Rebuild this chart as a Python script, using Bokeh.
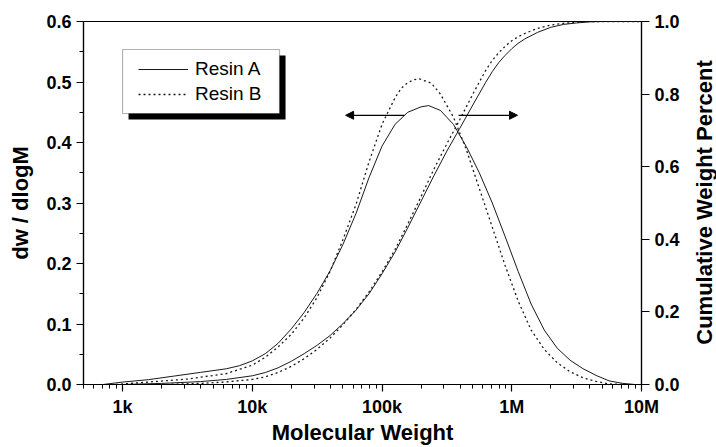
from math import pi

from bokeh.embed import file_html
from bokeh.layouts import row
from bokeh.models import (Arrow, BoxAnnotation, CustomJSTickFormatter, FixedTicker,
                          Label, Legend, LegendItem, LinearAxis, NormalHead,
                          PrintfTickFormatter, Range1d)
from bokeh.plotting import figure
from bokeh.resources import INLINE

# ---- molecular weight distributions (dw/dlogM, left axis) ----
mw_dist_a = [708, 1000, 1580, 2510, 3980, 6310, 7940, 10000, 12600, 15800, 20000,
             25100, 31600, 39800, 50100, 63100, 79400, 100000, 126000, 158000,
             200000, 229000, 282000, 355000, 447000, 562000, 708000, 891000,
             1120000, 1410000, 1780000, 2240000, 2820000, 3550000, 4470000,
             5620000, 7080000, 8910000]
dist_a = [0.000, 0.004, 0.008, 0.014, 0.020, 0.026, 0.031, 0.039, 0.051, 0.068, 0.092,
          0.119, 0.151, 0.188, 0.232, 0.283, 0.342, 0.394, 0.430, 0.450,
          0.459, 0.461, 0.453, 0.430, 0.393, 0.350, 0.300, 0.244,
          0.187, 0.133, 0.090, 0.060, 0.040, 0.026, 0.015,
          0.006, 0.002, 0.000]

mw_dist_b = [891, 1580, 3160, 6310, 10000, 12600, 15800, 20000, 25100, 31600, 39800,
             50100, 63100, 79400, 100000, 126000, 141000, 158000, 178000, 195000,
             240000, 282000, 355000, 447000, 562000, 708000, 891000, 1120000,
             1410000, 1780000, 2240000, 2820000, 3550000, 4470000, 5620000, 7080000]
dist_b = [0.000, 0.004, 0.009, 0.018, 0.032, 0.045, 0.062, 0.083, 0.110, 0.144, 0.187,
          0.240, 0.298, 0.368, 0.430, 0.474, 0.490, 0.499, 0.504, 0.505,
          0.498, 0.480, 0.442, 0.388, 0.324, 0.260, 0.196, 0.138,
          0.090, 0.058, 0.036, 0.021, 0.011, 0.005, 0.001, 0.000]

# ---- cumulative weight fraction (right axis) ----
mw_cum_a = [1000, 2000, 3980, 6310, 10000, 12600, 15800, 20000, 25100, 31600, 39800,
            50100, 63100, 79400, 100000, 126000, 158000, 200000, 251000, 316000,
            398000, 501000, 631000, 708000, 794000, 891000, 1000000, 1120000,
            1260000, 1580000, 2000000, 2510000, 3160000, 3980000, 5010000, 10000000]
cum_a = [0.000, 0.003, 0.008, 0.014, 0.024, 0.033, 0.046, 0.064, 0.085, 0.108, 0.135,
         0.168, 0.205, 0.250, 0.305, 0.365, 0.432, 0.505, 0.575, 0.643,
         0.706, 0.770, 0.833, 0.862, 0.887, 0.907, 0.925, 0.940,
         0.952, 0.970, 0.984, 0.992, 0.996, 0.999, 1.000, 1.000]

mw_cum_b = [2000, 3980, 6310, 10000, 12600, 15800, 20000, 25100, 31600, 39800, 50100,
            63100, 79400, 100000, 126000, 158000, 200000, 251000, 316000, 398000,
            501000, 631000, 708000, 794000, 891000, 1000000, 1120000, 1260000,
            1580000, 2000000, 2510000, 3160000, 3980000, 10000000]
cum_b = [0.000, 0.003, 0.007, 0.014, 0.021, 0.033, 0.050, 0.071, 0.097, 0.128, 0.165,
         0.207, 0.255, 0.310, 0.372, 0.442, 0.518, 0.593, 0.663, 0.730,
         0.800, 0.866, 0.893, 0.914, 0.932, 0.947, 0.958, 0.967,
         0.981, 0.990, 0.995, 0.998, 1.000, 1.000]

# ---- axis ticks ----
x_tick_values = [1e3, 1e4, 1e5, 1e6, 1e7]
x_tick_labels = ["1k", "10k", "100k", "1M", "10M"]
left_ticks = [0.0, 0.1, 0.2, 0.3, 0.4, 0.5, 0.6]
right_ticks = [0.0, 0.2, 0.4, 0.6, 0.8, 1.0]

FONT = "Liberation Sans"
INK = "#1a1a1a"

p = figure(width=686, height=447, x_axis_type="log",
           x_range=Range1d(500, 1e7), y_range=Range1d(0, 0.6),
           output_backend="svg", toolbar_location=None,
           min_border_left=83, min_border_right=45,
           min_border_top=21, min_border_bottom=63)
p.extra_y_ranges = {"cum": Range1d(0, 1.0)}
p.xgrid.visible = False
p.ygrid.visible = False
p.outline_line_color = "black"
p.outline_line_width = 1.2
p.background_fill_color = "white"
p.border_fill_color = "white"

# legend frame with drop shadow
shadow = BoxAnnotation(left=1112, right=18044, top=0.5438, bottom=0.438,
                       fill_color="black", fill_alpha=1.0, line_color=None)
frame = BoxAnnotation(left=1000, right=16218, top=0.5537, bottom=0.4479,
                      fill_color="white", fill_alpha=1.0,
                      line_color="black", line_width=1.2)
p.add_layout(shadow)
p.add_layout(frame)

ra = p.line(mw_dist_a, dist_a, line_color=INK, line_width=1.0)
rb = p.line(mw_dist_b, dist_b, line_color=INK, line_width=1.3, line_dash="2 3")
p.line(mw_cum_a, cum_a, line_color=INK, line_width=1.0, y_range_name="cum")
p.line(mw_cum_b, cum_b, line_color=INK, line_width=1.3, line_dash="2 3",
       y_range_name="cum")

# arrows pointing to the axis each curve pair belongs to
p.add_layout(Arrow(end=NormalHead(size=8, fill_color="black", line_color="black"),
                   x_start=149000, y_start=0.445, x_end=52400, y_end=0.445,
                   line_color="black", line_width=1.2))
p.add_layout(Arrow(end=NormalHead(size=8, fill_color="black", line_color="black"),
                   x_start=389000, y_start=0.445, x_end=1107000, y_end=0.445,
                   line_color="black", line_width=1.2))

legend = Legend(items=[LegendItem(label="Resin A", renderers=[ra]),
                       LegendItem(label="Resin B", renderers=[rb])],
                location=(55, 279), padding=0, margin=0,
                border_line_color=None, background_fill_alpha=0.0,
                glyph_width=50, glyph_height=20, label_height=20,
                spacing=3, label_standoff=7,
                label_text_font=FONT, label_text_font_size="19px",
                label_text_color="black")
p.add_layout(legend)

# bottom axis
xa = p.xaxis[0]
minor_x = [m * 10 ** e for e in range(2, 7) for m in range(2, 10) if 500 <= m * 10 ** e <= 1e7]
xa.ticker = FixedTicker(ticks=x_tick_values, minor_ticks=minor_x)
xa.formatter = CustomJSTickFormatter(
    args=dict(tick_values=x_tick_values, tick_labels=x_tick_labels),
    code="const i = tick_values.indexOf(tick); return i >= 0 ? tick_labels[i] : '';")
xa.axis_label = "Molecular Weight"

# left axis
ya = p.yaxis[0]
ya.ticker = FixedTicker(ticks=left_ticks,
                        minor_ticks=[0.05, 0.15, 0.25, 0.35, 0.45, 0.55])
ya.formatter = PrintfTickFormatter(format="%.1f")
ya.axis_label = "dw / dlogM"

# right axis
yr = LinearAxis(y_range_name="cum", ticker=FixedTicker(ticks=right_ticks),
                formatter=PrintfTickFormatter(format="%.1f"))
p.add_layout(yr, "right")

for ax in (xa, ya, yr):
    ax.axis_line_color = "black"
    ax.axis_line_width = 1.2
    ax.major_tick_line_color = "black"
    ax.major_tick_line_width = 1.2
    ax.minor_tick_line_color = "black"
    ax.major_tick_in = 0
    ax.major_tick_out = 7
    ax.minor_tick_in = 0
    ax.minor_tick_out = 4
    ax.major_label_text_font = FONT
    ax.major_label_text_font_size = "18px"
    ax.major_label_text_font_style = "bold"
    ax.major_label_text_color = "black"
    ax.axis_label_text_font = FONT
    ax.axis_label_text_font_size = "22px"
    ax.axis_label_text_font_style = "bold"
    ax.axis_label_text_color = "black"

xa.major_label_standoff = 5
xa.axis_label_standoff = 0
ya.major_label_standoff = 5
ya.axis_label_standoff = 10
yr.minor_tick_line_color = None
yr.major_tick_out = 8
yr.major_label_standoff = 5

# narrow strip to the right holding the right-hand title, read bottom to top
side = figure(width=30, height=447, output_backend="svg", toolbar_location=None,
              x_axis_location=None, y_axis_location=None,
              min_border_left=0, min_border_right=0,
              min_border_top=0, min_border_bottom=0)
side.outline_line_color = None
side.xgrid.visible = False
side.ygrid.visible = False
side.background_fill_color = "white"
side.border_fill_color = "white"
side.add_layout(Label(x=18, y=182, x_units="screen", y_units="screen",
                      text="Cumulative Weight Percent", angle=pi / 2,
                      text_align="center", text_baseline="middle",
                      text_font=FONT, text_font_size="22px", text_font_style="bold",
                      text_color="black"))

layout = row(p, side, spacing=0)
open("out.html", "w").write(file_html(layout, INLINE))
